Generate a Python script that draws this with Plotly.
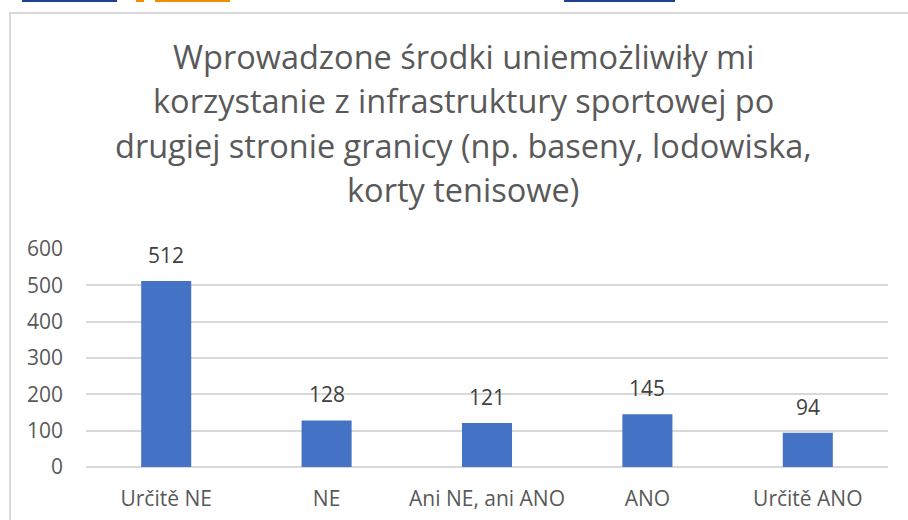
import plotly.graph_objects as go

# Survey answers and counts
categories = ["Určitě NE", "NE", "Ani NE, ani ANO", "ANO", "Určitě ANO"]
counts = [512, 128, 121, 145, 94]
y_ticks = [0, 100, 200, 300, 400, 500, 600]
title_lines = [
    "Wprowadzone środki uniemożliwiły mi",
    "korzystanie z infrastruktury sportowej po",
    "drugiej stronie granicy (np. baseny, lodowiska,",
    "korty tenisowe)",
]

W, H = 908, 520
L, R, T, B = 86, 888, 249, 467   # plot area in pixels


def px_x(px):
    return (px - L) / (R - L)


def px_y(py):
    return (B - py) / (B - T)


FONT = "Open Sans"
BAR = "#4472c4"
GRID = "#d9d9d9"
TICK = "#595959"
LABEL = "#404040"
FS = 21

fig = go.Figure(
    go.Bar(
        x=categories,
        y=counts,
        marker=dict(color=BAR, line=dict(width=0)),
        hoverinfo="skip",
    )
)

annotations = []
# data labels above each bar
for c, v in zip(categories, counts):
    annotations.append(dict(
        x=c, y=v, xref="x", yref="y", text=str(v), showarrow=False,
        yanchor="middle", yshift=26,
        font=dict(family=FONT, size=FS, color=LABEL),
    ))

# multi-line title, one annotation per line
title_baselines = [67, 111, 156, 200]
TS = 32.5
for line, base in zip(title_lines, title_baselines):
    annotations.append(dict(
        x=px_x(463), y=px_y(base - 0.33 * TS), xref="paper", yref="paper",
        text=line, showarrow=False, xanchor="center", yanchor="middle",
        font=dict(family=FONT, size=TS, color=TICK),
    ))

shapes = [
    # chart frame (top and left edges)
    dict(type="line", xref="paper", yref="paper",
         x0=px_x(10), x1=px_x(930), y0=px_y(13), y1=px_y(13),
         line=dict(color=GRID, width=2)),
    dict(type="line", xref="paper", yref="paper",
         x0=px_x(10), x1=px_x(10), y0=px_y(12), y1=px_y(540),
         line=dict(color=GRID, width=2)),
]
# coloured strips along the top edge
for x0, x1, col in [(22, 117, "#1b4392"), (136, 144, "#f28c00"),
                    (155, 230, "#f28c00"), (564, 675, "#1b4392")]:
    shapes.append(dict(type="rect", xref="paper", yref="paper",
                       x0=px_x(x0), x1=px_x(x1), y0=px_y(0), y1=px_y(2),
                       fillcolor=col, line=dict(width=0), layer="above"))

fig.update_layout(
    width=W, height=H,
    margin=dict(l=L, r=W - R, t=T, b=H - B, pad=0, autoexpand=False),
    paper_bgcolor="white", plot_bgcolor="white",
    bargap=0.688,
    showlegend=False,
    annotations=annotations,
    shapes=shapes,
    xaxis=dict(
        showgrid=False, showline=False, zeroline=False, ticks="",
        tickfont=dict(family=FONT, size=FS, color=TICK),
        ticklabelstandoff=17, automargin=False,
    ),
    yaxis=dict(
        range=[0, 600], tickvals=y_ticks,
        showgrid=True, gridcolor=GRID, gridwidth=2,
        zeroline=True, zerolinecolor=GRID, zerolinewidth=2,
        showline=False, ticks="",
        tickfont=dict(family=FONT, size=FS, color=TICK),
        ticklabelstandoff=22, automargin=False,
    ),
)

fig.write_html("out.html")
